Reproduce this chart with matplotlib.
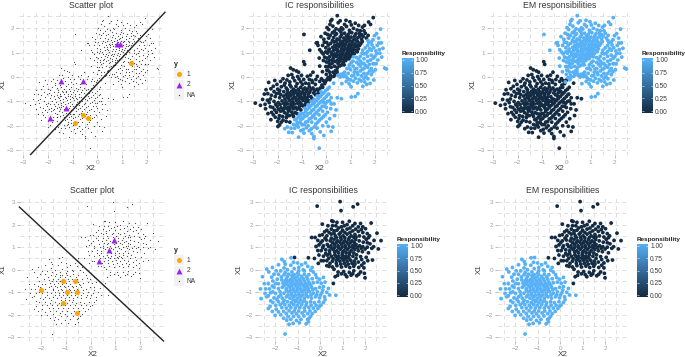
import numpy as np
import matplotlib
matplotlib.use("Agg")
import matplotlib.pyplot as plt
from matplotlib.colors import LinearSegmentedColormap, Normalize
from matplotlib.ticker import MultipleLocator, FixedLocator

plt.rcParams['font.family'] = ['Liberation Sans', 'DejaVu Sans']

# ---- upper row data: (X2, X1)
top_a = [(.45,2.52),(1.93,2.44),(.23,2.36),(.18,2.3),(.81,2.33),(.75,2.16),(.15,2.16),(1.33,2.12),(1.74,2.26),(1.82,2.16),(-.92,1.75),(1.49,2.05),(-.68,1.1),(-.37,1.41),(.14,-.11),(.07,-.03),
(-.41,1.4),(-.34,1.3),(-.2,1.03),(-.07,.82),(-.12,.68),(0,.62),(.07,.27),(0,.11),(-.04,-.2),
(.1,1.95),(.4,1.98),(.62,2.02),(.95,1.92),(1.12,2.0),(1.4,1.9),
(-.05,1.8),(.05,1.75),(.25,1.82),(.42,1.78),(.6,1.85),(.75,1.8),(.9,1.75),(1.05,1.82),(1.22,1.78),(1.45,1.74),(1.6,1.8),
(-.1,1.55),(.1,1.6),(.3,1.62),(.45,1.56),(.58,1.65),(.72,1.6),(.88,1.58),(1.02,1.64),(1.15,1.57),(1.3,1.62),(1.45,1.55),(1.65,1.6),
(-.15,1.3),(.02,1.42),(.18,1.38),(.32,1.44),(.46,1.36),(.6,1.42),(.7,1.34),(.82,1.44),(.94,1.36),(1.06,1.44),(1.18,1.36),(1.3,1.44),(1.42,1.38),
(-.02,1.2),(.12,1.15),(.26,1.22),(.4,1.14),(.52,1.24),(.64,1.16),(.76,1.26),(.88,1.18),(1,1.26),(1.12,1.18),(1.24,1.26),(1.32,1.16),
(.05,.98),(.2,1.02),(.34,.95),(.46,1.04),(.58,.96),(.7,1.06),(.82,.98),(.94,1.06),(1.06,1.02),(1.15,.96),
(.02,.78),(.14,.84),(.28,.76),(.4,.84),(.52,.78),(.64,.86),(.76,.8),(.88,.86),(.98,.84),
(.1,.6),(.24,.56),(.36,.64),(.48,.56),(.58,.66),(.7,.6),(.8,.68),
(.08,.42),(.2,.4),(.34,.44),(.46,.4),(.56,.46),(.14,.2),(.28,.2),(.38,.26),
(.25,1.5),(.4,1.48),(.55,1.52),(.68,1.46),(.8,1.52),(.95,1.5),(1.1,1.5),(1.25,1.5),(.35,1.3),(.5,1.3),(.65,1.28),(.78,1.34),(.92,1.28),(1.06,1.32),(1.18,1.28),(.3,1.1),(.45,1.12),(.6,1.08),(.74,1.14),(.86,1.1),(1,1.14),(1.1,1.1),(.42,.92),(.55,.9),(.68,.94),(.8,.9),(.92,.95),(.6,.75),(.72,.72),(.86,.76),(.45,.68),(1.22,1.1),(1.3,1.3),
(-.27,1.12),(-.13,.95),(-.03,1.03),(.08,1.31),(.16,1.71),(.33,1.88),(.53,1.93),(.68,1.97),(.83,2.08),(1.03,2.14),(1.27,1.93),(.13,.52),(-.02,.43),(.17,.07),(.31,.03),(.43,.29),(.51,.62),(.23,.93),(.37,1.73),(.63,1.74),(.83,1.68),(.97,1.85),(1.17,1.69),(1.36,1.8),(1.52,1.67),(1.72,1.71),(1.55,1.9),(.09,1.08),(-.08,1.43),(-.22,1.66),(.03,2.03),(.27,2.09),(.49,2.23),(.97,2.27),(1.19,2.21),(1.57,2.12),(.57,2.31),(-.29,.78),(.02,.28),(.24,.68),(.12,.7),(.3,.86),(.38,1.25),(.58,1.35),(.93,1.62),(1.38,1.68),(1.48,1.46),(.73,.5),(.63,.5),(.93,.75),(1.03,.92),(1.27,1.04),(1.37,1.3),(.35,.1),(.18,-.03),(.44,.2),(-.16,.22),(-.27,.45)]
top_b = [(2.23,1.97),(2.15,1.6),(2.16,1.4),(2.26,1.4),(1.71,1.5),(1.92,1.53),(1.85,1.44),(2.1,1.3),(2.07,.96),(1.92,.55),(2.4,.37),(2.47,.33),(1.71,-.07),(1.58,-.2),(1.3,-.68),(1.19,-.8),(1.03,-.82),(.82,-.18),(.64,-.27),(.48,.07),(.59,.11),
(1.5,1.1),(1.6,1.2),(1.7,1.3),(1.55,.95),(1.7,1.05),(1.85,1.1),(1.95,1.2),(1.4,.85),(1.55,.75),(1.7,.85),(1.85,.9),(2,.85),(1.25,.8),(1.4,.65),(1.55,.55),(1.7,.65),(1.82,.7),(1.95,.55),(2.05,.55),(1.1,.65),(1.25,.6),(1.4,.45),(1.55,.35),(1.7,.4),(1.85,.35),(.95,.5),(1.1,.45),(1.25,.35),(1.4,.25),(1.55,.15),(1.7,.15),(1.85,.1),(.85,.35),(1,.3),(1.15,.2),(1.3,.1),(1.45,.05),(.75,.2),(.9,.15),(1.05,.05),(1.2,-.05),(1.35,-.1),(.7,.02),(.85,-.03),(1,-.12),(1.55,-.05),
(1.12,.83),(1.33,.74),(1.47,.98),(1.63,.97),(1.78,1.17),(1.88,1.32),(2.04,1.07),(2.18,1.13),(2.28,.82),(1.93,.78),(2.12,.7),(1.77,.52),(1.62,.47),(1.47,.57),(1.33,.52),(1.18,.33),(1.03,.6),(.93,.37),(1.13,.07),(1.27,.19),(1.48,.32),(1.63,.03),(1.78,.25),(1.92,.22),(2.02,.3),(.68,.13),(.57,.0),(.79,.05),(.93,-.1),(1.12,-.17),(1.28,-.24),(1.43,-.16),(.94,-.28),(1.02,-.4),(1.66,-.3),(1.8,-.26),(1.95,-.12),(1.5,-.38),(1.75,1.42),(1.98,1.7),(2.07,1.78),(2.33,1.18),(2.2,.98)]
top_c = [(-2.92,-1.07),(-2.71,-1.16),(-2.5,-1.3),(-2.4,-1.5),(-2.37,-.22),(-.93,.63),(-.89,.52),(-1.47,.37),(-1.36,.3),(-1.23,.25),(-1.99,-2.03),(-1.92,-1.96),(-1.5,-1.85),(-1.64,-1.64),(-2.41,-.68),(-2.26,-.75),(-2.12,-.14),(-1.78,-.07),(-1.14,.2),(-.55,.2),(-.59,-.14),(-.07,-.27),(-.2,-.07),(-.37,.03),
(-1.7,-.25),(-1.5,-.2),(-1.3,-.15),(-1.05,-.2),(-.85,-.25),(-.7,-.1),(-.45,-.3),
(-2,-.5),(-1.85,-.4),(-1.65,-.45),(-1.45,-.4),(-1.25,-.38),(-1.05,-.42),(-.88,-.45),(-.7,-.4),(-.55,-.45),(-.38,-.5),(-.25,-.45),
(-2.15,-.6),(-1.95,-.65),(-1.75,-.6),(-1.58,-.62),(-1.42,-.58),(-1.28,-.62),(-1.12,-.58),(-.98,-.62),(-.82,-.58),(-.68,-.62),(-.52,-.65),
(-2.3,-.9),(-2.1,-.8),(-1.92,-.85),(-1.76,-.78),(-1.6,-.82),(-1.46,-.76),(-1.32,-.82),(-1.18,-.76),(-1.04,-.82),(-.9,-.76),(-.76,-.82),(-.64,-.8),
(-2.35,-1.05),(-2.15,-1),(-1.98,-1.05),(-1.82,-.98),(-1.66,-1.02),(-1.52,-.96),(-1.38,-1.02),(-1.24,-.96),(-1.1,-1.02),(-.96,-.96),(-.84,-1.02),
(-2.2,-1.25),(-2.02,-1.2),(-1.86,-1.26),(-1.7,-1.18),(-1.55,-1.24),(-1.4,-1.18),(-1.26,-1.24),(-1.1,-1.2),
(-2.25,-1.45),(-2.05,-1.45),(-1.88,-1.4),(-1.72,-1.46),(-1.56,-1.4),(-1.42,-1.44),(-1.28,-1.46),
(-2.1,-1.65),(-1.95,-1.7),(-1.8,-1.62),(-1.64,-1.66),(-1.85,-1.85),(-1.65,-1.82),
(-1.6,-.52),(-1.35,-.5),(-1.15,-.5),(-.95,-.52),(-.78,-.5),(-1.65,-.72),(-1.5,-.68),(-1.35,-.7),(-1.2,-.68),(-1.05,-.7),(-.9,-.68),(-.75,-.7),(-1.7,-.9),(-1.55,-.88),(-1.4,-.9),(-1.25,-.88),(-1.12,-.9),(-.98,-.88),(-.82,-.9),(-1.6,-1.1),(-1.45,-1.08),(-1.32,-1.1),(-1.18,-1.08),(-1.04,-1.1),(-1.75,-1.3),(-1.5,-1.32),(-1.35,-1.3),(-1.2,-1.32),
(-2.62,-.92),(-2.55,-.7),(-2.48,-.52),(-2.28,-.48),(-2.42,-.95),(-2.52,-1.12),(-2.3,-1.22),(-2.12,-1.35),(-2.18,-1.55),(-2.28,-1.75),(-2.0,-1.82),(-1.78,-1.77),(-1.52,-1.58),(-1.38,-1.55),(-1.62,-1.52),(-1.93,-1.58),(-1.97,-1.32),(-1.78,-1.37),(-1.63,-1.29),(-1.46,-1.22),(-1.13,-1.27),(-.97,-1.18),(-.87,-1.12),(-.73,-.97),(-.59,-.88),(-.47,-.55),(-.33,-.65),(-.18,-.33),(-.12,-.15),(0,-.13),(-.27,-.18),(-.43,-.1),(-.57,-.22),(-.72,-.28),(-.93,-.1),(-1.12,-.08),(-1.37,-.03),(-1.62,-.12),(-1.88,-.18),(-2.03,-.3),(-2.18,-.38),(-1.92,-.55),(-1.73,-.33),(-1.5,-.32),(-1.2,-.27),(-.98,-.3),(-.63,-.52),(-1.02,.07),(-1.18,.02),(-1.42,.1),(-.78,.03),(-.65,.08),(-1.57,.07),(-1.88,-.72),(-2.05,-.68),(-1.53,-.78),(-1.38,-.62),(-1.1,-.78),(-.87,-.86),(-1.27,-.56),(-1.45,-1.13),(-1.75,-1.09),(-1.9,-1.12),(-2.08,-1.12),
(-1.35,-1.62),(-1.2,-1.5),(-1.05,-1.35),(-.9,-1.2),(-.75,-1.05),(-.45,-.72),(-.3,-.55),(-.15,-.42)]
top_d = [(-.29,-2.92),(-.51,-2.44),(-.51,-2.52),(-.1,-2.4),(-1.14,-2.47),(-.92,-2.3),(-1.55,-2.27),(-1.71,-2.12),(.62,-.89),(.45,-.85),(.34,-1.58),(.27,-2.05),(.2,-2.23),(.14,-1.71),(-.07,-1.2),
(-1.3,-1.75),(-1.15,-1.65),(-1,-1.5),(-.85,-1.4),(-.7,-1.25),(-.55,-1.1),(-.4,-.95),(-.25,-.8),(-.1,-.65),(.05,-.5),(.3,-.25),
(-1.35,-1.95),(-1.2,-1.85),(-1.05,-1.75),(-.9,-1.62),(-.75,-1.5),(-.6,-1.38),(-.45,-1.22),(-.3,-1.08),(-.15,-.95),(0,-.8),(.1,-.7),
(-1.3,-2.1),(-1.15,-2.05),(-1,-1.95),(-.85,-1.85),(-.7,-1.72),(-.55,-1.6),(-.4,-1.45),(-.25,-1.3),(-.1,-1.05),(.05,-1),(.2,-.85),
(-.95,-2.15),(-.75,-2),(-.6,-1.85),(-.45,-1.7),(-.3,-1.55),(-.15,-1.4),(0,-1.25),(.2,-1.1),
(-.7,-2.2),(-.5,-2.05),(-.35,-1.85),(-.2,-1.7),(-.05,-1.55),(-.15,-2),(0,-1.85),(-1.6,-2.05),
(-1.45,-2.1),(-1.18,-1.92),(-1.08,-1.6),(-.93,-1.5),(-.78,-1.32),(-.63,-1.17),(-.48,-1.05),(-.33,-.88),(-.18,-.72),(-.03,-.56),(.12,-.42),(-.97,-1.7),(-.8,-1.58),(-.65,-1.47),(-.52,-1.33),(-.38,-1.18),(-.23,-1.02),(-.08,-.88),(.07,-.72),(-1.23,-1.98),(-1.07,-1.87),(-.9,-1.95),(-.77,-1.83),(-.62,-1.68),(-.47,-1.52),(-.33,-1.37),(-.17,-1.2),(-.02,-1.07),(.13,-.98),(-.82,-2.08),(-.62,-2.13),(-.43,-1.93),(-.28,-1.77),(-.12,-1.63),(.05,-1.45),(.18,-1.3),(-.6,-2.32),(-.38,-2.1),(-.25,-2.25),(.08,-2.02),(-1.05,-2.2),(-1.4,-2.28),(.32,-1.1),(.4,-1.35),
(-1.22,-1.72),(-1.1,-1.52),(-.88,-1.28),(-.75,-1.14),(-.62,-1.0),(-.5,-.92),(-.37,-.78),(-.22,-.6)]

# ---- lower row data
bot_e = [(.89,3.02),(-.13,2.82),(.93,2.62),(1.47,2.79),(1.67,2.91),(.58,2.14),(.52,2.17),(.1,2.02),(2.27,2.07),(2.53,1.62),(2.71,1.29),(2.59,.92),(2.33,.43),(2,-.36),(1.97,-.16),(1.63,-.27),(1.19,-.31),(1.38,-.24),(.59,-.61),(.67,-.31),(.44,.28),(-.37,1.43),(-.22,1.43),(-.18,1.03),(-.52,.53),(-.25,.5),
(.7,1.95),(.95,1.9),(1.2,2),(1.45,1.95),(1.7,1.9),(1.9,1.9),(2.1,1.6),
(.3,1.75),(.5,1.8),(.75,1.75),(1,1.75),(1.2,1.8),(1.45,1.72),(1.7,1.7),(1.9,1.65),(.55,1.95),
(.1,1.55),(.3,1.5),(.5,1.58),(.68,1.5),(.85,1.58),(1.02,1.5),(1.2,1.58),(1.38,1.5),(1.55,1.56),(1.75,1.5),(1.95,1.45),(2.15,1.42),
(-.1,1.3),(.1,1.28),(.28,1.32),(.45,1.28),(.62,1.34),(.78,1.28),(.94,1.34),(1.1,1.28),(1.26,1.34),(1.42,1.28),(1.58,1.34),(1.74,1.28),(1.92,1.22),(2.1,1.2),
(-.05,1.1),(.15,1.06),(.32,1.12),(.48,1.06),(.64,1.12),(.8,1.06),(.96,1.12),(1.12,1.06),(1.28,1.12),(1.44,1.06),(1.6,1.12),(1.76,1.06),(1.9,1.02),(2.1,1),(2.3,.95),
(.05,.85),(.25,.88),(.42,.84),(.58,.9),(.74,.84),(.9,.9),(1.06,.84),(1.22,.9),(1.38,.84),(1.54,.9),(1.7,.84),(1.88,.8),(2.15,.75),
(.15,.6),(.32,.65),(.5,.6),(.66,.66),(.82,.6),(.98,.66),(1.14,.6),(1.3,.66),(1.46,.6),(1.62,.66),(1.8,.58),(2.05,.55),
(.3,.4),(.55,.38),(.72,.42),(.88,.38),(1.04,.42),(1.2,.38),(1.36,.42),(1.52,.38),(1.7,.34),(1.95,.3),
(.55,.12),(.75,.18),(.95,.12),(1.15,.16),(1.32,.1),(1.5,.15),(1.72,.1),(1.95,.08),
(.8,-.1),(1.05,-.08),(1.3,-.12),(1.5,-.05),(1.8,-.1),
(.5,1.4),(.72,1.42),(.9,1.44),(1.1,1.42),(1.3,1.42),(1.5,1.44),(.55,1.2),(.72,1.2),(.88,1.22),(1.04,1.2),(1.2,1.2),(1.36,1.22),(1.52,1.2),(.5,.97),(.66,1),(.82,.98),(.98,1),(1.14,.97),(1.3,1),(1.46,.97),(.65,.78),(.82,.75),(1,.76),(1.16,.75),(1.32,.76),(1.5,.74),(.8,.5),(.96,.52),(1.12,.5),(1.28,.52),
(-.05,.65),(-.1,.85),(.03,1.2),(-.02,1.52),(.2,1.68),(.4,1.65),(.62,1.72),(.82,1.85),(1.08,1.95),(1.33,1.85),(1.58,1.8),(1.83,1.78),(2.05,1.35),(2.22,1.15),(2.38,1.02),(2.0,.92),(1.83,.95),(1.66,.98),(1.52,1.04),(1.85,.45),(1.6,.5),(1.42,.28),(1.25,.25),(1.08,.28),(.92,.25),(.72,.28),(.62,.02),(.78,-.25),(.95,-.18),(1.12,-.22),(1.45,-.18),(1.72,-.2),(.38,.5),(.25,.72),(.12,.98),(.22,1.4),(.38,1.02),(.42,.72),(.58,.5),(.72,.58),(1.05,.58),(1.22,.55),(1.55,.25),(1.85,.2),(2.12,.4),(2.2,1.5),(.35,1.95),(.75,2.1),(1.0,2.1),(1.3,2.15),(1.55,2.05),(1.8,2.05),(2.02,1.82),(2.4,1.3),(1.6,1.45),(1.33,1.65),(1.1,1.65),(.92,1.65),(.62,1.62),(.4,.15),(.3,.18),(.15,.4),(.05,.4),(-.08,.28)]
bot_f = [(-1.56,-2.85),(-1.38,-2.42),(-1.48,-2.24),(-2,-2.02),(-2.3,-1.72),(-2.62,-1.28),(-2.37,-1.2),(-2.56,-.31),(-2.37,.03),(-1.7,.46),(-1.59,.36),(-1.29,.53),(.15,-.34),(.37,-.83),(.7,-1.13),(.04,-1.57),(-.52,-2.31),(-.49,-2.16),
(-1.3,.2),(-1,.3),(-.95,.1),(-1.15,.05),
(-1.75,-.05),(-1.45,0),(-1.25,-.1),(-.95,-.05),(-.75,0),(-.55,.15),(-.35,.1),
(-2.05,-.2),(-1.85,-.2),(-1.6,-.22),(-1.4,-.2),(-1.15,-.22),(-.95,-.22),(-.7,-.2),(-.5,-.22),(-.3,-.1),
(-2.1,-.5),(-1.9,-.42),(-1.7,-.45),(-1.5,-.4),(-1.3,-.42),(-1.12,-.4),(-.92,-.42),(-.75,-.4),(-.55,-.42),(-.35,-.4),(-.15,-.35),
(-1.85,-.62),(-1.65,-.6),(-1.48,-.62),(-1.3,-.6),(-1.14,-.62),(-.98,-.6),(-.82,-.62),(-.65,-.6),(-.48,-.62),(-.3,-.58),(-.12,-.55),(.05,-.6),
(-2.25,-.85),(-2.05,-.78),(-1.85,-.84),(-1.68,-.78),(-1.5,-.84),(-1.34,-.78),(-1.18,-.84),(-1.02,-.78),(-.86,-.84),(-.7,-.78),(-.54,-.84),(-.38,-.78),(-.2,-.84),(-.02,-.78),(.15,-.75),
(-2.45,-1.05),(-2.2,-1.02),(-1.98,-1.05),(-1.78,-.98),(-1.6,-1.04),(-1.42,-.98),(-1.26,-1.04),(-1.1,-.98),(-.94,-1.04),(-.78,-.98),(-.62,-1.04),(-.46,-.98),(-.3,-1.04),(-.12,-.98),(.08,-1.02),(.3,-1),
(-2.05,-1.25),(-1.85,-1.2),(-1.68,-1.26),(-1.5,-1.2),(-1.34,-1.26),(-1.18,-1.2),(-1.02,-1.26),(-.86,-1.2),(-.7,-1.26),(-.54,-1.2),(-.38,-1.26),(-.2,-1.2),(-.02,-1.25),(.2,-1.2),
(-2.1,-1.45),(-1.85,-1.42),(-1.65,-1.46),(-1.45,-1.42),(-1.28,-1.46),(-1.1,-1.42),(-.94,-1.46),(-.76,-1.42),(-.6,-1.46),(-.42,-1.42),(-.25,-1.46),(-.05,-1.42),(.15,-1.45),
(-1.95,-1.75),(-1.7,-1.68),(-1.5,-1.7),(-1.3,-1.68),(-1.1,-1.7),(-.9,-1.68),(-.7,-1.7),(-.5,-1.68),(-.3,-1.7),(-.1,-1.72),
(-1.75,-2),(-1.5,-1.95),(-1.25,-1.92),(-1.05,-1.95),(-.8,-1.92),(-.55,-1.95),(-.35,-1.95),
(-1.3,-2.2),(-1.05,-2.25),(-.85,-2.2),(-.55,-2.2),
(-1.55,-.5),(-1.4,-.5),(-1.22,-.5),(-1.05,-.5),(-.88,-.5),(-.7,-.5),(-1.6,-.7),(-1.42,-.7),(-1.25,-.7),(-1.08,-.7),(-.9,-.7),(-.74,-.7),(-.58,-.72),(-1.5,-.92),(-1.32,-.9),(-1.16,-.92),(-1,-.9),(-.84,-.92),(-.68,-.9),(-.52,-.92),(-1.42,-1.12),(-1.26,-1.12),(-1.1,-1.12),(-.94,-1.12),(-.78,-1.12),(-.62,-1.12),(-1.2,-1.34),(-1.05,-1.34),(-.88,-1.34),(-.7,-1.34),
(-2.3,-.62),(-2.42,-.85),(-2.15,-.33),(-2.28,-.1),(-2.12,.1),(-1.95,-.05),(-1.6,.08),(-1.85,.22),(-1.55,.25),(-1.18,.33),(-.82,.22),(-.65,.3),(-.42,-.02),(-.2,-.22),(-.02,-.42),(.22,-.55),(.12,-.9),(.42,-1.12),(.22,-1.33),(.02,-1.12),(-.15,-1.12),(-.32,-.88),(-.42,-.68),(-.6,-.32),(-.82,-.3),(-1.03,-.32),(-1.22,-.32),(-1.45,-.3),(-1.72,-.32),(-1.98,-.62),(-2.1,-.98),(-2.3,-1.15),(-2.2,-1.38),(-1.97,-1.58),(-1.77,-1.55),(-1.57,-1.55),(-1.37,-1.58),(-1.18,-1.55),(-1.02,-1.58),(-.82,-1.55),(-.62,-1.58),(-.4,-1.57),(-.18,-1.58),(-.02,-1.62),(-2.12,-1.85),(-1.85,-1.87),(-1.62,-1.85),(-1.38,-1.82),(-1.15,-1.83),(-.95,-1.83),(-.68,-1.83),(-.45,-1.83),(-.22,-1.85),(-1.62,-2.15),(-1.42,-2.08),(-1.18,-2.07),(-.95,-2.07),(-.72,-2.05),(-.42,-2.07),(-1.2,-2.38),(-.92,-2.35),(-.62,-2.4),(-.7,-.05),(-2.22,-1.62),(-2.48,-.62),(-2.65,-.85),(-2.12,-.72),(-1.92,-1.32),(-1.75,-1.12),(-1.6,-1.36),(-.4,-1.12),(-.5,-.55),(-1.0,-.15),(-1.25,-.25),(-1.55,-.12)]
bot_split = [(-1.14,.56)]   # dark under IC, light under EM

# labelled points (X2, X1)
top_y1 = [(1.36,.58),(-.58,-1.56),(-.38,-1.7),(-.91,-1.9)]
top_y2 = [(.79,1.37),(.93,1.37),(-1.48,-.15),(-.58,-.16),(-1.26,-1.25),(-1.9,-1.68)]
bot_y1 = [(-1.1,-.49),(-.63,-.52),(-2,-.92),(-.94,-.97),(-.55,-.97),(-1.1,-1.47),(-.55,-1.9)]
bot_y2 = [(.95,1.34),(.75,.88),(.34,.39)]

# decision lines: two end points
top_line_x = [-2.7, 2.74]
top_line_y = [-3.18, 2.66]
bot_line_x = [-2.875, 2.94]
bot_line_y = [2.78, -3.16]

titles = ["Scatter plot", "IC responsibilities", "EM responsibilities"]
y_levels = ["1", "2", "NA"]
cb_ticks = [0, .25, .5, .75, 1]
cb_labels = ["0.00", "0.25", "0.50", "0.75", "1.00"]

W, H = 685, 357
GRID = "#dedede"; TICK = "#b0b0b0"; TXT = "#3a3a3a"
ORANGE = "#FFA500"; PURPLE = "#A020F0"
cmap = LinearSegmentedColormap.from_list("gg", ["#132B43", "#56B1F7"])
norm = Normalize(0, 1)

fig = plt.figure(figsize=(W/100, H/100), dpi=100)
fig.patch.set_facecolor("white")

def px_axes(l, r, t, b):
    return fig.add_axes([l/W, 1-b/H, (r-l)/W, (b-t)/H])

def panel(l, r, t, b, xlim, ylim, xt, yt, title, ylab_x):
    ax = px_axes(l, r, t, b)
    ax.set_xlim(xlim); ax.set_ylim(ylim)
    for s in ax.spines.values():
        s.set_visible(False)
    ax.xaxis.set_major_locator(FixedLocator(xt))
    ax.yaxis.set_major_locator(FixedLocator(yt))
    ax.xaxis.set_minor_locator(MultipleLocator(.5))
    ax.yaxis.set_minor_locator(MultipleLocator(.5))
    ax.set_xticklabels([str(v).replace("-", "\u2212") for v in xt])
    ax.set_yticklabels([str(v).replace("-", "\u2212") for v in yt])
    ax.tick_params(which="major", length=2.5, width=.6, color=TICK, labelcolor="#a0a0a0", labelsize=4.6, pad=1)
    ax.tick_params(which="minor", length=0)
    ax.grid(True, which="both", color=GRID, lw=.7, ls=(0, (4, 3.5)))
    ax.set_axisbelow(True)
    fig.text((l+r)/2/W, 1-(b+13.5)/H, "X2", fontsize=5.8, color=TXT, ha="center", va="center")
    fig.text(ylab_x/W, 1-(t+b)/2/H, "X1", fontsize=5.8, color=TXT, ha="center", va="center", rotation=90)
    ax.set_title(title, fontsize=6.3, color=TXT, pad=3.5)
    return ax

def points(ax, groups):
    for pts, r in groups:
        a = np.array(pts)
        ax.scatter(a[:, 0], a[:, 1], c=np.full(len(a), r), cmap=cmap, norm=norm, s=7.5, lw=0, zorder=3)

def scatter_panel(ax, pts, y1, y2, lx, ly):
    a = np.array(pts)
    ax.scatter(a[:, 0], a[:, 1], s=.8, c="black", lw=0, alpha=.7, zorder=3)
    b = np.array(y1); c = np.array(y2)
    ax.scatter(b[:, 0], b[:, 1], s=13, c=ORANGE, lw=0, zorder=4)
    ax.scatter(c[:, 0], c[:, 1], s=18, c=PURPLE, marker="^", lw=0, zorder=4)
    ax.plot(lx, ly, color="#222222", lw=1, zorder=5, clip_on=False)

def legend_y(x, title_y, key_top):
    fig.text(x/W, 1-title_y/H, "y", fontsize=5, fontweight="bold", color="#222222", va="center")
    for i, lab in enumerate(y_levels):
        ax = px_axes(x, x+10, key_top+i*10.5, key_top+(i+1)*10.5-.5)
        ax.set_xlim(0, 1); ax.set_ylim(0, 1); ax.set_xticks([]); ax.set_yticks([])
        ax.set_facecolor("#f2f2f2")
        for s in ax.spines.values():
            s.set_visible(False)
        if lab == "1":
            ax.scatter([.5], [.5], s=13, c=ORANGE, lw=0)
        elif lab == "2":
            ax.scatter([.5], [.5], s=18, c=PURPLE, marker="^", lw=0)
        else:
            ax.scatter([.5], [.5], s=.9, c="#444444", lw=0)
        fig.text((x+12.5)/W, 1-(key_top+(i+.5)*10.5)/H, lab, fontsize=4.8, color=TXT, va="center")

def colorbar(x, top, bot):
    fig.text(x/W, 1-(top-5)/H, "Responsibility", fontsize=4.6, fontweight="bold", color="#222222", va="center")
    ax = px_axes(x, x+11, top, bot)
    pad = 2/(bot-top-4)
    ax.set_xlim(0, 1); ax.set_ylim(-pad, 1+pad)
    grad = np.linspace(0, 1, 60).reshape(-1, 1)
    ax.imshow(grad, origin="lower", aspect="auto", cmap=cmap, norm=norm, extent=(0, 1, -pad, 1+pad))
    for s in ax.spines.values():
        s.set_visible(False)
    ax.set_xticks([])
    ax.yaxis.tick_right()
    ax.set_yticks(cb_ticks); ax.set_yticklabels(cb_labels)
    ax.tick_params(length=0, labelsize=4.8, labelcolor=TXT, pad=1.5)
    ax.hlines(cb_ticks, 0, .2, color="white", lw=.4)
    ax.hlines(cb_ticks, .8, 1, color="white", lw=.4)

top_x = [-3, -2, -1, 0, 1, 2]
top_yt = [-3, -2, -1, 0, 1, 2]
bot_x = [-2, -1, 0, 1, 2]
bot_yt = [-3, -2, -1, 0, 1, 2, 3]
top_ylim = (-3.2, 2.63)
bot_ylim = (-3.16, 3.18)

ax = panel(19, 163, 13, 155, (-3.17, 2.66), top_ylim, top_x, top_yt, titles[0], 3.5)
scatter_panel(ax, top_a+top_b+top_c+top_d, top_y1, top_y2, top_line_x, top_line_y)
legend_y(174, 64.5, 69)

ax = panel(249, 390, 13, 155, (-3.18, 2.62), top_ylim, top_x, top_yt, titles[1], 233)
points(ax, [(top_a, 0), (top_c, 0), (top_b, 1), (top_d, 1)])
colorbar(402, 58, 113)

ax = panel(490, 630, 13, 155, (-3.14, 2.62), top_ylim, top_x, top_yt, titles[2], 473)
points(ax, [(top_c, 0), (top_d, 0), (top_a, 1), (top_b, 1)])
colorbar(642, 58, 113)

ax = panel(20, 165, 198, 341, (-2.85, 3.0), bot_ylim, bot_x, bot_yt, titles[0], 3.5)
scatter_panel(ax, bot_e+bot_f+bot_split, bot_y1, bot_y2, bot_line_x, bot_line_y)
legend_y(174, 250, 255)

ax = panel(258, 388, 198, 341, (-2.76, 3.02), bot_ylim, bot_x, bot_yt, titles[1], 239)
points(ax, [(bot_e, 0), (bot_split, 0), (bot_f, 1)])
colorbar(397, 244, 297)

ax = panel(498, 628, 198, 341, (-2.76, 3.02), bot_ylim, bot_x, bot_yt, titles[2], 479)
points(ax, [(bot_e, 0), (bot_f, 1), (bot_split, 1)])
colorbar(637, 244, 297)

fig.savefig("out.png", dpi=100)
